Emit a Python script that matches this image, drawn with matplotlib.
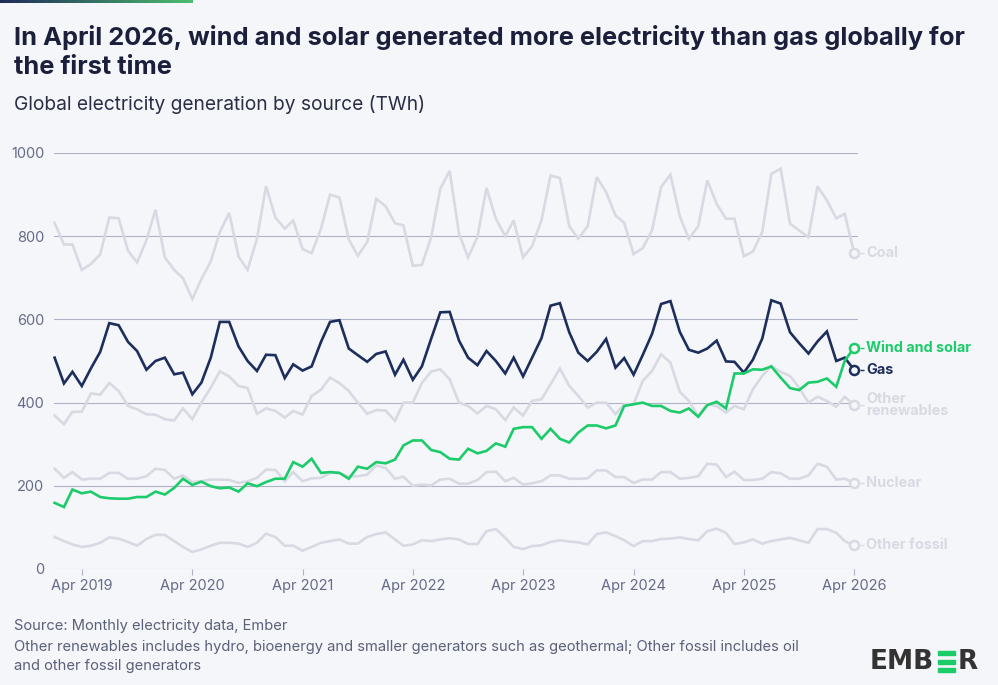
import matplotlib
matplotlib.use("Agg")
import matplotlib.pyplot as plt
from matplotlib.colors import LinearSegmentedColormap
from matplotlib.patches import Rectangle
from matplotlib.transforms import offset_copy
import numpy as np
import pandas as pd

# Monthly global generation (TWh), Jan 2019 - Apr 2026
months = pd.date_range("2019-01-01", periods=88, freq="MS")

coal = [832, 780, 780, 719, 733, 756, 845, 843, 765, 737, 790, 864,
        749, 719, 699, 649, 697, 739, 810, 856, 751, 719, 794, 920,
        845, 818, 838, 769, 759, 818, 900, 893, 792, 753, 786, 890,
        872, 831, 826, 729, 731, 798, 914, 957, 806, 749, 798, 916,
        842, 800, 838, 749, 776, 838, 946, 940, 824, 794, 824, 942,
        906, 850, 832, 757, 771, 814, 918, 948, 848, 794, 824, 934,
        878, 842, 842, 752, 763, 810, 950, 962, 830, 814, 798, 920,
        886, 843, 854, 760]

gas = [508, 446, 474, 440, 482, 522, 591, 586, 546, 524, 479, 500,
       508, 468, 472, 420, 448, 508, 594, 594, 535, 500, 476, 515,
       514, 459, 492, 477, 487, 546, 594, 598, 530, 514, 498, 517,
       523, 467, 503, 455, 487, 554, 617, 618, 549, 508, 490, 524,
       500, 470, 508, 463, 508, 555, 633, 639, 569, 520, 500, 522,
       553, 484, 507, 467, 514, 565, 637, 644, 570, 527, 520, 530,
       549, 499, 498, 472, 503, 554, 646, 638, 569, 543, 518, 547,
       571, 500, 508, 479]

other_renewables = [369, 348, 378, 378, 422, 419, 447, 428, 392, 384, 372, 371,
                    360, 357, 386, 360, 400, 436, 475, 463, 440, 435, 373, 386,
                    380, 364, 380, 371, 416, 431, 460, 447, 428, 400, 373, 382,
                    381, 356, 400, 400, 447, 475, 480, 456, 400, 392, 374, 392,
                    384, 358, 388, 369, 404, 408, 444, 482, 440, 416, 388, 400,
                    400, 372, 396, 396, 452, 476, 516, 496, 426, 404, 368, 396,
                    392, 376, 392, 384, 432, 464, 488, 474, 464, 436, 400, 414,
                    404, 390, 414, 394]

wind_solar = [159, 149, 191, 182, 186, 173, 170, 169, 169, 173, 173, 186,
              179, 195, 217, 202, 210, 199, 194, 196, 186, 206, 199, 209,
              217, 217, 257, 246, 265, 231, 233, 231, 217, 246, 241, 257,
              254, 263, 297, 309, 309, 286, 281, 265, 263, 289, 278, 284,
              302, 294, 337, 341, 341, 313, 337, 313, 304, 328, 345, 345,
              338, 345, 392, 396, 400, 392, 392, 380, 376, 386, 366, 394,
              402, 386, 470, 470, 480, 479, 487, 460, 435, 430, 448, 450,
              458, 438, 500, 532]

nuclear = [241, 219, 233, 215, 217, 217, 231, 231, 217, 217, 223, 241,
           238, 217, 225, 209, 211, 215, 215, 214, 207, 211, 219, 239,
           238, 211, 233, 211, 218, 219, 231, 231, 222, 223, 227, 249,
           243, 217, 222, 200, 203, 201, 215, 217, 205, 205, 214, 233,
           234, 211, 219, 203, 206, 211, 225, 225, 217, 217, 218, 237,
           237, 221, 221, 207, 215, 215, 233, 233, 217, 219, 223, 253,
           251, 221, 234, 214, 214, 217, 233, 230, 217, 217, 225, 253,
           246, 215, 217, 207]

other_fossil = [77, 67, 59, 53, 56, 63, 76, 73, 65, 56, 72, 82,
                82, 67, 53, 41, 47, 56, 63, 63, 61, 53, 63, 85,
                77, 56, 56, 44, 53, 63, 67, 71, 61, 61, 77, 84,
                88, 71, 56, 59, 69, 67, 71, 74, 71, 60, 60, 91,
                96, 75, 53, 48, 55, 57, 65, 69, 66, 64, 59, 84,
                88, 79, 69, 55, 67, 67, 72, 73, 76, 72, 69, 91,
                97, 87, 60, 64, 71, 61, 67, 71, 75, 69, 63, 96,
                96, 87, 67, 57]

y_ticks = [0, 200, 400, 600, 800, 1000]
x_tick_dates = pd.date_range("2019-04-01", periods=8, freq="12MS")
x_tick_labels = [f"Apr {d.year}" for d in x_tick_dates]

BG = "#f5f6fa"
GREY = "#d8dae3"
NAVY = "#1d2d5c"
GREEN = "#1ccb6a"
GRID = "#aeb2c6"

# (name, values, colour, on top?)
series = [
    ("Coal", coal, GREY, False),
    ("Other\nrenewables", other_renewables, GREY, False),
    ("Nuclear", nuclear, GREY, False),
    ("Other fossil", other_fossil, GREY, False),
    ("Gas", gas, NAVY, True),
    ("Wind and solar", wind_solar, GREEN, True),
]

plt.rcParams['font.family'] = ['Inter', 'DejaVu Sans']

fig = plt.figure(figsize=(9.98, 6.85), dpi=100, facecolor=BG)

# gradient strip at the top
gax = fig.add_axes([0, 1 - 3 / 685, 193 / 998, 3 / 685])
cmap = LinearSegmentedColormap.from_list("ember", ["#1f2a5a", "#4cbe6e"])
gax.imshow(np.linspace(0, 1, 256).reshape(1, -1), aspect="auto", cmap=cmap)
gax.axis("off")

ax = fig.add_axes([54 / 998, 1 - 569 / 685, 804 / 998, 416 / 685])
ax.set_facecolor(BG)

for name, vals, color, top in series:
    ax.plot(months, vals, color=color, linewidth=1.9, zorder=4 if top else 2,
            solid_joinstyle="miter", clip_on=False)
    last_x = months[-1]
    last_v = vals[-1]
    ax.plot(last_x, last_v, marker="o", ms=6.5, mfc=BG, mec=color, mew=1.8,
            zorder=6, clip_on=False)
    dash_tr = offset_copy(ax.transData, fig=fig, x=8, y=0, units="dots")
    ax.plot(last_x, last_v, marker="_", ms=3, mew=1, color=color,
            transform=dash_tr, clip_on=False)
    txt_tr = offset_copy(ax.transData, fig=fig, x=12, y=0, units="dots")
    ax.text(last_x, last_v, name, transform=txt_tr, color=color,
            fontsize=10.4, fontweight="bold", va="center", ha="left",
            linespacing=0.85)

ax.set_ylim(0, 1000)
ax.set_xlim(pd.Timestamp("2018-12-30"), pd.Timestamp("2026-04-14"))
ax.set_yticks(y_ticks)
ax.set_xticks(x_tick_dates)
ax.set_xticklabels(x_tick_labels)
ax.grid(axis="y", color=GRID, linewidth=0.8, zorder=0)
ax.set_axisbelow(True)
for s in ax.spines.values():
    s.set_visible(False)
ax.tick_params(axis="y", length=0, pad=7, labelsize=10.5, labelcolor="#656b87")
ax.tick_params(axis="x", length=4, width=0.8, color=GRID, pad=3,
               labelsize=10.5, labelcolor="#656b87")

# titles
fig.text(14 / 998, 1 - 37 / 685, "In April 2026, wind and solar generated more electricity than gas globally for",
         fontsize=18.3, fontweight="bold", color="#1b1f3b", va="center", ha="left")
fig.text(14 / 998, 1 - 68 / 685, "the first time",
         fontsize=18.3, fontweight="bold", color="#1b1f3b", va="center", ha="left")
fig.text(14 / 998, 1 - 104 / 685, "Global electricity generation by source (TWh)",
         fontsize=13.8, color="#2a2e45", va="center", ha="left")

# footer
foot = "#5b6079"
fig.text(14 / 998, 1 - 626 / 685, "Source: Monthly electricity data, Ember",
         fontsize=10.6, color=foot, va="center", ha="left")
fig.text(14 / 998, 1 - 647 / 685,
         "Other renewables includes hydro, bioenergy and smaller generators such as geothermal; Other fossil includes oil",
         fontsize=10.6, color=foot, va="center", ha="left")
fig.text(14 / 998, 1 - 666 / 685, "and other fossil generators",
         fontsize=10.6, color=foot, va="center", ha="left")

# logo
fig.text(870 / 998, 1 - 662 / 685, "EMB", fontsize=19, fontweight="bold",
         color="#333333", va="center", ha="left", family="DejaVu Sans")
for yb in (651, 659.5, 668):
    fig.patches.append(Rectangle((938 / 998, 1 - (yb + 4) / 685), 17 / 998, 4 / 685,
                                 transform=fig.transFigure, color=GREEN))
fig.text(958 / 998, 1 - 662 / 685, "R", fontsize=19, fontweight="bold",
         color="#333333", va="center", ha="left", family="DejaVu Sans")

fig.savefig("out.png", dpi=100, facecolor=BG)
